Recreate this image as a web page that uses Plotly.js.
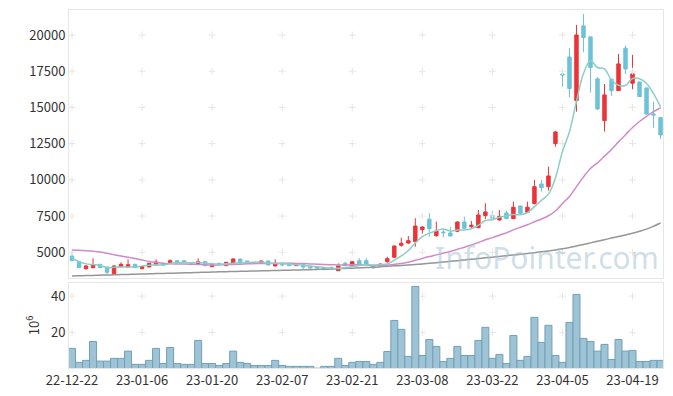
<!DOCTYPE html>
<html><head><meta charset="utf-8">
<script src="https://cdn.plot.ly/plotly-3.0.1.min.js"></script>
<style>html,body{margin:0;padding:0;background:#fff}#chart{width:673px;height:396px}</style>
</head><body><div id="chart"></div>
<script>
const dates = ["22-12-22","22-12-23","22-12-26","22-12-27","22-12-28","22-12-29","23-01-02","23-01-03","23-01-04","23-01-05",
"23-01-06","23-01-09","23-01-10","23-01-11","23-01-12","23-01-13","23-01-16","23-01-17","23-01-18","23-01-19",
"23-01-20","23-01-25","23-01-26","23-01-27","23-01-30","23-01-31","23-02-01","23-02-02","23-02-03","23-02-06",
"23-02-07","23-02-08","23-02-09","23-02-10","23-02-13","23-02-14","23-02-15","23-02-16","23-02-17","23-02-20",
"23-02-21","23-02-22","23-02-23","23-02-24","23-02-27","23-02-28","23-03-02","23-03-03","23-03-06","23-03-07",
"23-03-08","23-03-09","23-03-10","23-03-13","23-03-14","23-03-15","23-03-16","23-03-17","23-03-20","23-03-21",
"23-03-22","23-03-23","23-03-24","23-03-27","23-03-28","23-03-29","23-03-30","23-03-31","23-04-03","23-04-04",
"23-04-05","23-04-06","23-04-07","23-04-10","23-04-11","23-04-12","23-04-13","23-04-14","23-04-17","23-04-18",
"23-04-19","23-04-20","23-04-21","23-04-24","23-04-25"];
const open = [4745,4350,3865,3935,4170,3985,3520,4005,3985,4170, 3865,3985,4125,4240,4280,4420,4420,4280,4170,4350,
4005,4240,4075,4260,4535,4400,4310,4260,4400,4055, 4215,4240,4075,4145,4005,3985,3935,3965,3730,4240,
4075,4420,4420,4075,4055,4350,4655,5485,5640,5730, 6560,7280,6145,6400,6335,6450,7090,6770,6700,7530,
7555,7230,7715,7320,8195,7760,8370,9715,9530,12500, 17310,18485,15470,20630,19870,16970,14090,16945,16160,19090,
16670,16760,16345,14550,14295];
const high = [5040,4380,4120,4585,4200,4000,4100,4310,4515,4200, 4030,4260,4515,4260,4515,4440,4440,4300,4585,4370,
4190,4260,4330,4600,4560,4420,4330,4420,4420,4515, 4300,4260,4160,4165,4100,4050,3960,3980,4240,4350,
4370,4600,4600,4100,4220,4695,5460,6010,6125,7350, 6795,7695,7115,6590,6745,7140,7460,7160,7920,8385,
7850,7920,7875,8495,8220,8495,9995,9995,10910,13350, 17590,19090,20700,21460,19900,17085,16620,16970,18695,19270,
18625,16790,16360,15400,14310];
const low = [4400,3920,3800,3900,3920,3480,3500,3980,3960,3920, 3840,3960,4100,4100,4260,4260,4310,4120,4150,4050,
3980,4100,4050,4240,4240,4190,4190,4240,4100,4030, 4030,4050,4050,3800,3900,3900,3780,3800,3710,4050,
4050,4120,4120,3890,4030,4280,4620,5385,5575,5385, 6285,6075,6075,6035,6100,6380,6640,6680,6655,7300,
7320,7180,7300,7300,7670,7740,8300,9185,9255,12290, 16435,15705,14710,18810,16025,14825,13330,15795,16140,17315,
16255,15720,14480,13605,12805];
const close = [4420,3935,4055,4145,3935,3620,4055,4170,4145,3935, 4005,4240,4330,4125,4420,4280,4330,4145,4350,4075,
4170,4125,4310,4535,4260,4215,4215,4400,4125,4215, 4125,4075,4145,3985,3915,3915,3800,3825,4055,4075,
4350,4145,4145,3915,4190,4560,5435,5620,5800,6815, 6745,6630,6470,6355,6125,7090,6655,6865,7575,7785,
7350,7485,7320,8110,7695,8110,9530,9460,10270,13310, 17245,16300,20005,19820,17750,14895,15865,16160,18005,17660,
17315,15745,14550,14480,13100];
const volume = [11.2,3.5,4.6,15.0,4.2,4.2,5.7,5.7,9.7,2.4, 2.4,4.6,11.2,2.9,11.7,2.9,2.4,2.4,15.6,2.9,
2.9,1.8,2.9,9.7,3.5,2.9,1.8,1.8,1.8,4.6, 1.8,1.3,1.3,1.3,1.3,0.3,1.3,1.3,5.7,1.8,
3.5,4.0,4.0,2.4,3.5,9.5,26.6,21.7,6.8,45.3, 7.3,16.1,12.3,4.0,5.7,12.3,7.3,7.3,15.6,22.8,
5.7,7.9,2.9,18.3,4.6,6.8,28.3,14.5,23.9,7.3, 3.5,25.5,40.9,16.7,15.0,9.7,13.4,5.1,16.1,9.7,
10.1,4.0,4.0,4.6,4.6];
const ma5 = [4590,4350,4200,4150,4098,3938,3962,3985,3985,3985, 4062,4100,4131,4127,4224,4279,4297,4260,4305,4236,
4214,4173,4206,4243,4280,4289,4307,4325,4242,4232, 4214,4187,4136,4108,4049,4007,3952,3888,3902,3934,
4021,4090,4154,4126,4149,4191,4449,4745,5122,5646, 6084,6323,6493,6604,6466,6535,6540,6619,6863,7195,
7246,7412,7503,7609,7591,7743,8152,8580,9012,10135, 11962,13316,15425,17336,18224,17754,17667,16898,16534,16516,
17000,16976,16655,15950,15039];
const ma20 = [5159,5138,5110,5076,5021,4931,4834,4744,4655,4565, 4468,4365,4296,4240,4213,4192,4192,4178,4160,4136,
4123,4133,4146,4165,4181,4211,4219,4230,4229,4243, 4249,4241,4231,4225,4199,4181,4154,4139,4124,4124,
4133,4134,4126,4094,4091,4108,4169,4231,4314,4445, 4576,4704,4820,4938,5049,5208,5351,5503,5679,5864,
6014,6181,6340,6549,6724,6902,7107,7299,7522,7847, 8371,8855,9532,10205,10786,11176,11637,12101,12623,13117,
13615,14028,14389,14708,14979];
const ma120 = [3365,3378,3392,3405,3419,3432,3446,3459,3473,3486, 3500,3513,3527,3540,3554,3567,3581,3594,3608,3621,
3635,3648,3660,3672,3684,3696,3708,3720,3731,3743, 3755,3767,3779,3791,3803,3815,3826,3845,3865,3885,
3905,3925,3945,3964,3995,4030,4062,4095,4128,4160, 4192,4235,4280,4330,4375,4420,4470,4517,4565,4615,
4665,4715,4765,4815,4862,4915,4970,5030,5090,5160, 5240,5330,5430,5540,5650,5760,5870,5980,6090,6200,
6320,6450,6600,6800,7020];
const xTickIdx = [0,10,20,30,40,50,60,70,80];
const priceTicks = [5000,7500,10000,12500,15000,17500,20000];
const volTicks = [20,40];

const RED = "#ec3338", BLUE = "#6cc2d7";
const tickDates = xTickIdx.map(i => dates[i]);

function crosses(yvals, xa, ya) {
  const xs = [], ys = [];
  tickDates.forEach(d => yvals.forEach(v => { xs.push(d); ys.push(v); }));
  return {type:"scatter", mode:"markers", x:xs, y:ys, xaxis:xa, yaxis:ya, hoverinfo:"skip", showlegend:false,
    marker:{symbol:"cross-thin", size:5, line:{color:"#e6e6e6", width:1}}};
}

const traces = [
  crosses(priceTicks, "x", "y"),
  crosses(volTicks, "x2", "y2"),
  {type:"candlestick", x:dates, open:open, high:high, low:low, close:close, xaxis:"x", yaxis:"y",
   whiskerwidth:0, showlegend:false,
   increasing:{line:{color:RED, width:1}, fillcolor:RED},
   decreasing:{line:{color:BLUE, width:1}, fillcolor:BLUE}},
  {type:"bar", x:dates, y:volume, xaxis:"x2", yaxis:"y2", showlegend:false,
   marker:{color:"rgba(152,192,210,0.95)", line:{color:"rgb(112,160,185)", width:1}}},
  {type:"scatter", mode:"lines", x:dates, y:ma120, xaxis:"x", yaxis:"y", showlegend:false,
   line:{color:"rgb(150,150,150)", width:1.5, shape:"spline"}},
  {type:"scatter", mode:"lines", x:dates, y:ma20, xaxis:"x", yaxis:"y", showlegend:false,
   line:{color:"rgb(205,140,200)", width:1.5, shape:"spline"}},
  {type:"scatter", mode:"lines", x:dates, y:ma5, xaxis:"x", yaxis:"y", showlegend:false,
   line:{color:"rgb(140,206,196)", width:1.5, shape:"spline"}}
];

const axisFont = {family:"Noto Sans CJK KR, Noto Sans, sans-serif", size:13, color:"#333"};
const layout = {
  width:673, height:396,
  margin:{l:69, r:10, t:10, b:28},
  paper_bgcolor:"#fff", plot_bgcolor:"#fff",
  font:axisFont,
  showlegend:false,
  bargap:0,
  xaxis:{type:"category", categoryorder:"array", categoryarray:dates, domain:[0,1], anchor:"y", range:[-0.43,84.35], showticklabels:false,
    showgrid:false, zeroline:false, showline:true, mirror:true, linecolor:"#e6e6e6", linewidth:1,
    rangeslider:{visible:false}, fixedrange:true},
  yaxis:{domain:[0.2514,1], anchor:"x", range:[3225,21726], tickvals:priceTicks, ticktext:priceTicks.map(String),
    showgrid:false, zeroline:false, showline:true, mirror:true, linecolor:"#e6e6e6", linewidth:1,
    ticks:"", tickfont:axisFont},
  xaxis2:{type:"category", categoryorder:"array", categoryarray:dates, domain:[0,1], anchor:"y2", range:[-0.43,84.35], tickvals:tickDates, ticktext:tickDates,
    showgrid:false, zeroline:false, showline:true, mirror:true, linecolor:"#e6e6e6", linewidth:1,
    ticks:"", tickfont:axisFont, tickangle:0},
  yaxis2:{domain:[0,0.2374], anchor:"x2", range:[0.4,47.2], tickvals:volTicks,
    showgrid:false, zeroline:false, showline:true, mirror:true, linecolor:"#e6e6e6", linewidth:1,
    ticks:"", tickfont:axisFont,
    title:{text:"10<sup>6</sup>", font:axisFont, standoff:8}},
  annotations:[{text:"InfoPointer.com", xref:"paper", yref:"paper", x:0.805, y:0.309, xanchor:"center", yanchor:"middle", showarrow:false,
    font:{family:"Noto Sans, sans-serif", size:30, color:"rgba(165,195,212,0.55)"}}]
};
Plotly.newPlot("chart", traces, layout, {staticPlot:true, displayModeBar:false});
</script></body></html>
